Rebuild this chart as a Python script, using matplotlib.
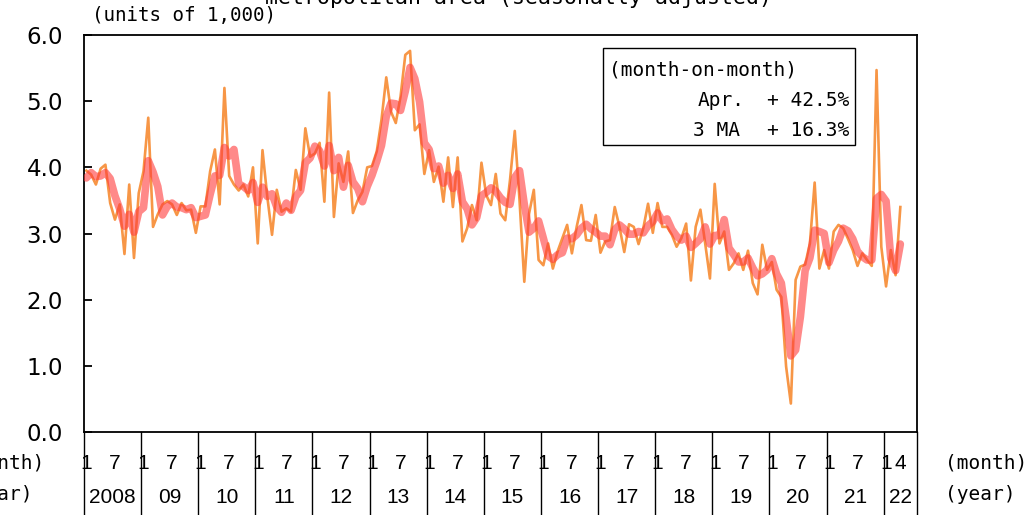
import numpy as np
import matplotlib
matplotlib.use("Agg")
import matplotlib.pyplot as plt
import matplotlib.transforms as mtransforms

# monthly starts, Jan 2008 - Apr 2022 (units of 1,000)
monthly = [
    3.95, 3.89, 3.74, 3.98, 4.04, 3.46, 3.21, 3.44, 2.69, 3.74, 2.63, 3.61,
    3.94, 4.75, 3.10, 3.29, 3.44, 3.49, 3.44, 3.28, 3.46, 3.35, 3.36, 3.01,
    3.41, 3.41, 3.94, 4.27, 3.44, 5.20, 3.87, 3.74, 3.65, 3.74, 3.56, 4.00,
    2.85, 4.26, 3.56, 2.98, 3.66, 3.33, 3.38, 3.33, 3.96, 3.66, 4.59, 4.16,
    4.21, 4.37, 3.48, 5.13, 3.25, 4.06, 3.78, 4.24, 3.31, 3.50, 3.63, 4.00,
    4.02, 4.24, 4.72, 5.36, 4.84, 4.67, 5.07, 5.70, 5.76, 4.56, 4.65, 3.90,
    4.26, 3.78, 4.01, 3.48, 4.15, 3.40, 4.15, 2.88, 3.08, 3.43, 3.20, 4.07,
    3.58, 3.43, 3.90, 3.30, 3.20, 3.81, 4.55, 3.50, 2.27, 3.30, 3.66, 2.60,
    2.52, 2.85, 2.47, 2.73, 2.93, 3.13, 2.70, 3.10, 3.43, 2.90, 2.89, 3.28,
    2.71, 2.88, 2.90, 3.40, 3.10, 2.72, 3.14, 3.10, 2.84, 3.08, 3.45, 3.01,
    3.46, 3.10, 3.10, 2.98, 2.80, 2.93, 3.15, 2.29, 3.10, 3.36, 2.85, 2.32,
    3.75, 2.85, 3.03, 2.45, 2.55, 2.70, 2.45, 2.74, 2.25, 2.08, 2.83, 2.45,
    2.57, 2.15, 2.04, 0.99, 0.43, 2.30, 2.50, 2.53, 2.85, 3.77, 2.47, 2.75,
    2.47, 3.03, 3.13, 3.08, 2.92, 2.75, 2.51, 2.70, 2.60, 2.51, 5.47, 2.80,
    2.20, 2.75, 2.37, 3.40,
]

# 3-month moving average
ma3 = [
    3.84, 3.92, 3.86, 3.87, 3.92, 3.83, 3.57, 3.37, 3.11, 3.29, 3.02, 3.33,
    3.39, 4.10, 3.93, 3.71, 3.28, 3.41, 3.46, 3.40, 3.39, 3.36, 3.39, 3.24,
    3.26, 3.28, 3.59, 3.87, 3.88, 4.30, 4.17, 4.27, 3.75, 3.71, 3.65, 3.77,
    3.47, 3.70, 3.56, 3.60, 3.40, 3.32, 3.46, 3.35, 3.56, 3.65, 4.07, 4.14,
    4.32, 4.25, 4.02, 4.33, 3.95, 4.15, 3.70, 4.03, 3.78, 3.68, 3.48, 3.71,
    3.88, 4.09, 4.33, 4.77, 4.97, 4.96, 4.86, 5.15, 5.51, 5.34, 4.99, 4.37,
    4.27, 3.98, 4.02, 3.76, 3.88, 3.68, 3.90, 3.48, 3.37, 3.13, 3.24, 3.57,
    3.62, 3.69, 3.64, 3.54, 3.47, 3.44, 3.85, 3.95, 3.44, 3.02, 3.08, 3.19,
    2.93, 2.66, 2.61, 2.68, 2.71, 2.93, 2.92, 2.98, 3.08, 3.14, 3.07, 3.02,
    2.96, 2.96, 2.83, 3.06, 3.13, 3.07, 2.99, 2.99, 3.03, 3.01, 3.12, 3.18,
    3.31, 3.19, 3.22, 3.06, 2.96, 2.90, 2.96, 2.79, 2.85, 2.92, 3.10, 2.84,
    2.97, 2.97, 3.21, 2.78, 2.68, 2.57, 2.57, 2.63, 2.48, 2.36, 2.39, 2.45,
    2.62, 2.39, 2.25, 1.73, 1.15, 1.24, 1.74, 2.44, 2.63, 3.05, 3.03, 3.00,
    2.56, 2.75, 2.88, 3.08, 3.04, 2.92, 2.73, 2.65, 2.60, 2.60, 3.53, 3.59,
    3.49, 2.62, 2.44, 2.84,
]

year_labels = ["2008", "09", "10", "11", "12", "13", "14", "15",
               "16", "17", "18", "19", "20", "21", "22"]
month_ticks = [0, 6] * 14 + [0, 3]
month_labels = ["1", "7"] * 14 + ["1", "4"]
n_slots = 175  # axis runs on to Jul 2022

W, H = 1032, 515
fig = plt.figure(figsize=(W / 100, H / 100), dpi=100)
ax = fig.add_axes([84 / W, 1 - 432 / H, (917 - 84) / W, (432 - 35) / H])

x = np.arange(len(monthly))
ax.plot(x, monthly, color="#F79646", lw=1.9, zorder=2)
ax.plot(x, ma3, color="#FF3B3B", lw=5.5, alpha=0.6,
        solid_capstyle="round", solid_joinstyle="round", zorder=3)

ax.set_xlim(-0.5, n_slots - 0.5)
ax.set_ylim(0, 6)
ax.set_yticks(np.arange(0, 6.01, 1.0))
ax.set_yticklabels([f"{v:.1f}" for v in np.arange(0, 6.01, 1.0)],
                   fontsize=16.5, family="DejaVu Sans")
ax.tick_params(axis="y", direction="in", length=6, width=1.3, pad=15)

tick_pos = [12 * (k // 2) + m for k, m in enumerate(month_ticks)]
ax.set_xticks(tick_pos)
ax.set_xticklabels(month_labels, fontsize=15, family="Liberation Sans")
ax.tick_params(axis="x", length=0, pad=16)

for s in ax.spines.values():
    s.set_linewidth(1.3)
    s.set_color("black")

# year separators and year labels below the axis
trans = mtransforms.blended_transform_factory(ax.transData, ax.transAxes)
bounds = [-0.5 + 12 * k for k in range(len(year_labels))] + [n_slots - 0.5]
for b in bounds:
    ax.plot([b, b], [0, -0.21], transform=trans, color="black", lw=1.0,
            clip_on=False)
for k, lab in enumerate(year_labels):
    mid = (bounds[k] + bounds[k + 1]) / 2
    ax.text(mid, -0.164, lab, transform=trans, ha="center", va="center",
            fontsize=15, family="Liberation Sans")

mono = "DejaVu Sans Mono"


def px(xp, yp):
    return xp / W, 1 - yp / H


fig.text(*px(92, 16), "(units of 1,000)", fontsize=13.8, family=mono,
         ha="left", va="center")
fig.text(*px(265, 4), "metropolitan area (seasonally adjusted)",
         fontsize=15.5, family=mono, ha="left", va="baseline")
fig.text(*px(-38, 463), "(month)", fontsize=14, family=mono, va="center")
fig.text(*px(-38, 494), "(year)", fontsize=14, family=mono, va="center")
fig.text(*px(945, 463), "(month)", fontsize=14, family=mono, va="center")
fig.text(*px(945, 494), "(year)", fontsize=14, family=mono, va="center")

# month-on-month box
box = plt.Rectangle(px(603, 145), (855 - 603) / W, (145 - 48) / H,
                    transform=fig.transFigure, fill=True, facecolor="white",
                    edgecolor="black", lw=1.0, zorder=5)
fig.add_artist(box)
fig.text(*px(609, 70), "(month-on-month)", fontsize=14, family=mono,
         va="center", zorder=6)
fig.text(*px(745, 100), "Apr.", fontsize=14, family=mono, ha="right",
         va="center", zorder=6)
fig.text(*px(849, 100), "+ 42.5%", fontsize=14, family=mono, ha="right",
         va="center", zorder=6)
fig.text(*px(740, 130), "3 MA", fontsize=14, family=mono, ha="right",
         va="center", zorder=6)
fig.text(*px(849, 130), "+ 16.3%", fontsize=14, family=mono, ha="right",
         va="center", zorder=6)

fig.savefig("out.png", dpi=100, facecolor="white")
